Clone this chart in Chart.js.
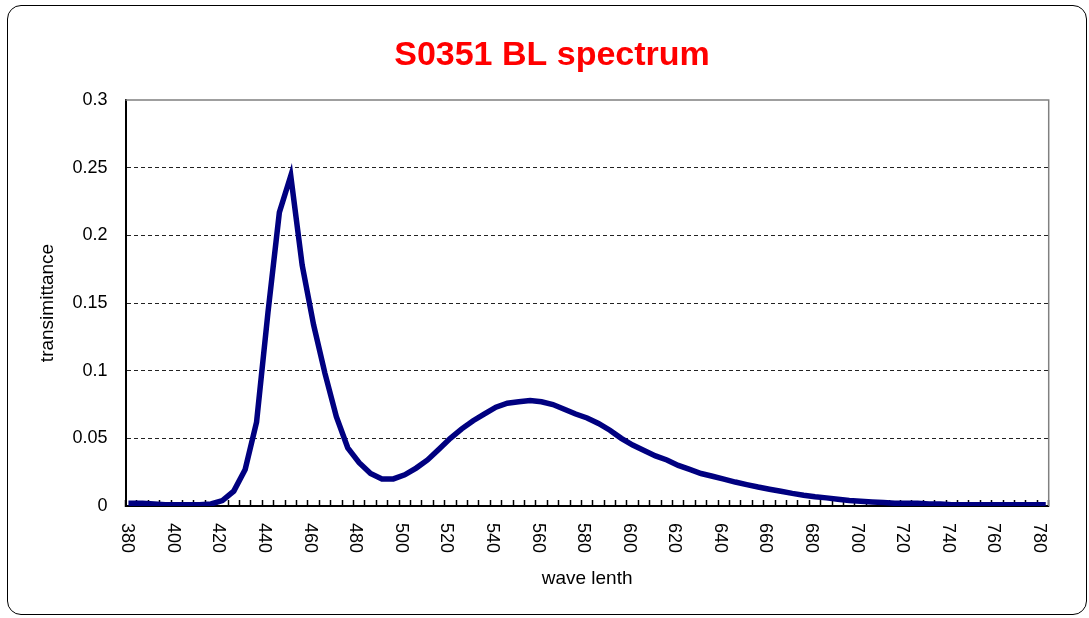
<!DOCTYPE html>
<html>
<head>
<meta charset="utf-8">
<script src="https://cdn.jsdelivr.net/npm/chart.js@4/dist/chart.umd.min.js"></script>
<style>
  body { margin: 0; background: #fff; }
  #wrap { position: relative; width: 1089px; height: 618px; }
  #frame {
    position: absolute; left: 7px; top: 5px; width: 1078px; height: 608px;
    border: 1.5px solid #000; border-radius: 14px; pointer-events: none;
  }
</style>
</head>
<body>
<div id="wrap">
  <canvas id="chart" width="1089" height="618"></canvas>
  <div id="frame"></div>
</div>
<script>
const wavelengths = [
  380, 385, 390, 395, 400, 405, 410, 415, 420, 425,
  430, 435, 440, 445, 450, 455, 460, 465, 470, 475,
  480, 485, 490, 495, 500, 505, 510, 515, 520, 525,
  530, 535, 540, 545, 550, 555, 560, 565, 570, 575,
  580, 585, 590, 595, 600, 605, 610, 615, 620, 625,
  630, 635, 640, 645, 650, 655, 660, 665, 670, 675,
  680, 685, 690, 695, 700, 705, 710, 715, 720, 725,
  730, 735, 740, 745, 750, 755, 760, 765, 770, 775,
  780
];

const transmittance = [
  0.002, 0.002, 0.0015, 0.001, 0.001, 0.001, 0.001, 0.0015, 0.004, 0.011,
  0.027, 0.062, 0.143, 0.217, 0.244, 0.178, 0.134, 0.098, 0.066, 0.043,
  0.032, 0.024, 0.020, 0.020, 0.023, 0.028, 0.034, 0.042, 0.050, 0.057,
  0.063, 0.068, 0.073, 0.076, 0.077, 0.078, 0.077, 0.075, 0.0715, 0.068,
  0.065, 0.061, 0.056, 0.050, 0.045, 0.041, 0.037, 0.034, 0.030, 0.027,
  0.024, 0.022, 0.0198, 0.0177, 0.0158, 0.014, 0.0124, 0.0109, 0.0093, 0.008,
  0.0069, 0.006, 0.005, 0.004, 0.0035, 0.003, 0.0025, 0.002, 0.002, 0.002,
  0.0015, 0.0015, 0.001, 0.001, 0.001, 0.001, 0.001, 0.001, 0.001, 0.001,
  0.001
];

// only every 20 nm gets a label
const xTickLabels = [380, 400, 420, 440, 460, 480, 500, 520, 540, 560, 580,
  600, 620, 640, 660, 680, 700, 720, 740, 760, 780];

const FONT = "'Liberation Sans', Arial, sans-serif";

// Gray border on the top and right of the plot area
const plotBorder = {
  id: "plotBorder",
  beforeDatasetsDraw(chart) {
    const { ctx, chartArea: a } = chart;
    ctx.save();
    ctx.strokeStyle = "#808080";
    ctx.lineWidth = 1.5;
    ctx.beginPath();
    ctx.moveTo(a.left, a.top);
    ctx.lineTo(a.right, a.top);
    ctx.lineTo(a.right, a.bottom);
    ctx.stroke();
    ctx.restore();
  },
};

// x labels read top to bottom, like the original
const xLabels = {
  id: "xLabels",
  afterDraw(chart) {
    const { ctx } = chart;
    const xScale = chart.scales.x;
    ctx.save();
    ctx.fillStyle = "#000";
    ctx.font = "18px " + FONT;
    ctx.textAlign = "left";
    ctx.textBaseline = "middle";
    wavelengths.forEach((w, i) => {
      if (!xTickLabels.includes(w)) return;
      const x = xScale.getPixelForValue(i) - 4;
      ctx.save();
      ctx.translate(x, xScale.top + 17);
      ctx.rotate(Math.PI / 2);
      ctx.fillText(String(w), 0, 0);
      ctx.restore();
    });
    ctx.restore();
  },
};

new Chart(document.getElementById("chart"), {
  type: "line",
  data: {
    labels: wavelengths,
    datasets: [
      {
        data: transmittance,
        borderColor: "#000080",
        borderWidth: 5.5,
        pointRadius: 0,
        tension: 0,
        borderCapStyle: "square",
      },
    ],
  },
  options: {
    responsive: false,
    animation: false,
    devicePixelRatio: 1,
    layout: { padding: { left: 15, right: 0, top: 0, bottom: 0 } },
    plugins: {
      legend: { display: false },
      tooltip: { enabled: false },
      title: {
        display: true,
        text: "S0351 BL spectrum",
        color: "#ff0000",
        font: { family: FONT, size: 34, weight: "bold" },
        padding: { top: 35, bottom: 24.2 },
      },
    },
    scales: {
      x: {
        type: "category",
        offset: true,
        afterFit: (s) => { s.height = 112; },
        ticks: { display: false, autoSkip: false },
        grid: {
          offset: true,
          drawOnChartArea: false,
          drawTicks: true,
          tickLength: -6,
          tickColor: "#000",
          tickWidth: 1.5,
        },
        border: { display: true, color: "#000", width: 2 },
        title: {
          display: true,
          text: "wave lenth",
          color: "#000",
          font: { family: FONT, size: 19 },
          padding: { top: 0, bottom: 28 },
        },
      },
      y: {
        min: 0,
        max: 0.3,
        afterFit: (s) => { s.width = 110.5; },
        ticks: {
          stepSize: 0.05,
          padding: 18,
          color: "#000",
          font: { family: FONT, size: 18 },
          callback: (v) => String(+(+v).toFixed(2)),
        },
        grid: {
          drawTicks: false,
          lineWidth: 1,
          color: (c) => (c.tick && (c.tick.value === 0 || c.tick.value > 0.29) ? "transparent" : "#222"),
        },
        border: { display: true, color: "#000", width: 2, dash: [4, 3] },
        title: {
          display: true,
          text: "transimittance",
          color: "#000",
          font: { family: FONT, size: 19 },
          padding: { top: 21, bottom: 0 },
        },
      },
      // empty right-hand axis that only reserves the margin on the right
      yRight: {
        position: "right",
        min: 0,
        max: 0.3,
        afterFit: (s) => { s.width = 40.3; },
        ticks: { display: false },
        grid: { drawOnChartArea: false, drawTicks: false },
        border: { display: false },
      },
    },
  },
  plugins: [plotBorder, xLabels],
});
</script>
</body>
</html>
